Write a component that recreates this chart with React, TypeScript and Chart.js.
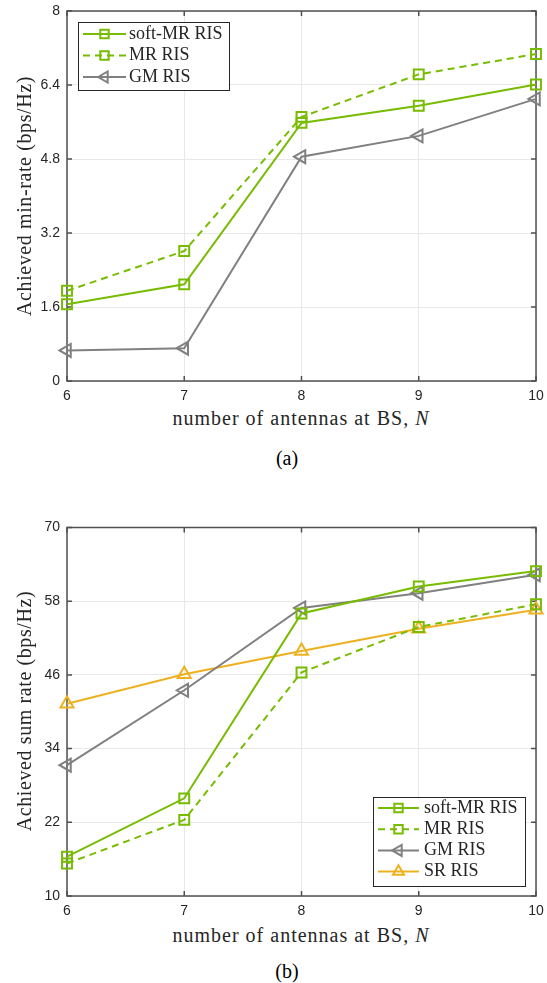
import React, { useEffect, useRef } from 'react';
import { Chart, registerables } from 'chart.js';

Chart.register(...registerables);

// ---------- data ----------
const antennas = [6, 7, 8, 9, 10];
const xTicks = [6, 7, 8, 9, 10];
const minRateTicks = [0, 1.6, 3.2, 4.8, 6.4, 8];
const sumRateTicks = [10, 22, 34, 46, 58, 70];

const minSoftMR = [1.66, 2.09, 5.58, 5.95, 6.41];
const minMR = [1.95, 2.81, 5.71, 6.63, 7.07];
const minGM = [0.66, 0.71, 4.85, 5.3, 6.1];

const sumSoftMR = [16.4, 25.9, 56.0, 60.4, 62.9];
const sumMR = [15.3, 22.4, 46.4, 53.8, 57.5];
const sumGM = [31.3, 43.5, 56.9, 59.3, 62.3];
const sumSR = [41.3, 46.1, 49.9, 53.5, 56.6];

const seriesLabels = ['soft-MR RIS', 'MR RIS', 'GM RIS', 'SR RIS'];

// ---------- styles ----------
const GREEN = '#77BC00';
const GRAY = '#808080';
const ORANGE = '#EDB120';
const TEXT = '#262626';
const SERIF = '"Liberation Serif", "Times New Roman", serif';
const SANS = '"Liberation Sans", Arial, sans-serif';

type Kind = 'softMR' | 'MR' | 'GM' | 'SR';

function makeSeries(label: string, values: number[], kind: Kind) {
  const color = kind === 'GM' ? GRAY : kind === 'SR' ? ORANGE : GREEN;
  const tri = kind === 'GM' || kind === 'SR';
  return {
    label,
    data: antennas.map((x, i) => ({ x, y: values[i] })),
    borderColor: color,
    borderWidth: 2,
    borderDash: kind === 'MR' ? [7, 5] : [],
    pointStyle: tri ? 'triangle' : 'rect',
    pointRotation: kind === 'GM' ? -90 : 0,
    pointRadius: tri ? 7.5 : 7,
    pointHoverRadius: tri ? 7.5 : 7,
    pointBorderWidth: 2,
    pointBorderColor: color,
    pointBackgroundColor: 'rgba(0,0,0,0)',
    tension: 0,
    clip: false as any,
  };
}

function drawMarker(
  ctx: CanvasRenderingContext2D,
  style: string,
  x: number,
  y: number,
  r: number,
  rot: number,
  color: string,
  bw: number
) {
  ctx.save();
  ctx.setLineDash([]);
  ctx.strokeStyle = color;
  ctx.lineWidth = bw;
  ctx.beginPath();
  if (style === 'rect') {
    const s = r * Math.SQRT1_2;
    ctx.rect(x - s, y - s, 2 * s, 2 * s);
  } else {
    let a = ((rot || 0) * Math.PI) / 180;
    ctx.moveTo(x + Math.sin(a) * r, y - Math.cos(a) * r);
    for (let k = 0; k < 2; k++) {
      a += (2 * Math.PI) / 3;
      ctx.lineTo(x + Math.sin(a) * r, y - Math.cos(a) * r);
    }
    ctx.closePath();
  }
  ctx.stroke();
  ctx.restore();
}

const plotBoxPlugin = {
  id: 'plotBox',
  beforeDatasetsDraw(chart: any) {
    const { ctx, chartArea, scales } = chart;
    const { left, right, top, bottom } = chartArea;
    const xs = scales.x;
    const ys = scales.y;
    const tl = 5;
    ctx.save();
    ctx.strokeStyle = '#505050';
    ctx.lineWidth = 1.5;
    ctx.beginPath();
    xs.ticks.forEach((t: any) => {
      const px = xs.getPixelForValue(t.value);
      ctx.moveTo(px, bottom);
      ctx.lineTo(px, bottom - tl);
      ctx.moveTo(px, top);
      ctx.lineTo(px, top + tl);
    });
    ys.ticks.forEach((t: any) => {
      const py = ys.getPixelForValue(t.value);
      ctx.moveTo(left, py);
      ctx.lineTo(left + tl, py);
      ctx.moveTo(right, py);
      ctx.lineTo(right - tl, py);
    });
    ctx.stroke();
    ctx.strokeRect(left, top, right - left, bottom - top);
    ctx.restore();
  },
};

const legendPlugin = {
  id: 'matlabLegend',
  afterDatasetsDraw(chart: any, _args: any, opts: any) {
    const { ctx } = chart;
    const { left, top, width, height, firstRow, rowHeight, lineStart, lineEnd, textX } = opts;
    ctx.save();
    ctx.fillStyle = '#ffffff';
    ctx.fillRect(left, top, width, height);
    ctx.strokeStyle = TEXT;
    ctx.lineWidth = 1;
    ctx.strokeRect(left + 0.5, top + 0.5, width, height);
    chart.data.datasets.forEach((ds: any, i: number) => {
      const yy = top + firstRow + i * rowHeight;
      ctx.strokeStyle = ds.borderColor;
      ctx.lineWidth = ds.borderWidth;
      ctx.setLineDash(ds.borderDash || []);
      ctx.beginPath();
      ctx.moveTo(left + lineStart, yy);
      ctx.lineTo(left + lineEnd, yy);
      ctx.stroke();
      ctx.setLineDash([]);
      drawMarker(
        ctx,
        ds.pointStyle,
        left + (lineStart + lineEnd) / 2,
        yy,
        ds.pointRadius * 0.85,
        ds.pointRotation,
        ds.pointBorderColor,
        ds.pointBorderWidth
      );
      ctx.fillStyle = TEXT;
      ctx.font = `18px ${SERIF}`;
      ctx.textBaseline = 'middle';
      ctx.textAlign = 'left';
      ctx.fillText(ds.label, left + textX, yy);
    });
    ctx.restore();
  },
};

function buildConfig(
  datasets: any[],
  yTicks: number[],
  canvasH: number,
  padTop: number,
  plotBottom: number,
  legend: any
): any {
  return {
    type: 'line',
    data: { datasets },
    plugins: [plotBoxPlugin, legendPlugin],
    options: {
      animation: false,
      responsive: false,
      events: [],
      layout: { padding: { top: padTop, right: 11, left: 0, bottom: 0 } },
      plugins: {
        legend: { display: false },
        tooltip: { enabled: false },
        matlabLegend: legend,
      },
      scales: {
        x: {
          type: 'linear',
          min: xTicks[0],
          max: xTicks[xTicks.length - 1],
          afterBuildTicks: (s: any) => {
            s.ticks = xTicks.map((v) => ({ value: v }));
          },
          afterFit: (s: any) => {
            s.height = canvasH - plotBottom;
            s.paddingLeft = 0;
            s.paddingRight = 0;
          },
          grid: { color: '#e8e8e8', lineWidth: 1, drawTicks: false },
          border: { display: false },
          ticks: {
            autoSkip: false,
            maxRotation: 0,
            padding: 7,
            color: TEXT,
            font: { family: SANS, size: 14 },
            callback: (v: any) => String(v),
          },
        },
        y: {
          type: 'linear',
          min: yTicks[0],
          max: yTicks[yTicks.length - 1],
          afterBuildTicks: (s: any) => {
            s.ticks = yTicks.map((v) => ({ value: v }));
          },
          afterFit: (s: any) => {
            s.width = 67;
            s.paddingTop = 0;
            s.paddingBottom = 0;
          },
          grid: { color: '#e8e8e8', lineWidth: 1, drawTicks: false },
          border: { display: false },
          ticks: {
            autoSkip: false,
            padding: 7,
            color: TEXT,
            font: { family: SANS, size: 14 },
            callback: (v: any) => String(Number(Number(v).toFixed(2))),
          },
        },
      },
    },
  };
}

function Label(props: { x: number; y: number; size: number; spacing?: number; rotate?: boolean; color?: string; children: any }) {
  const { x, y, size, spacing, rotate, color, children } = props;
  return (
    <div
      style={{
        position: 'absolute',
        left: x,
        top: y,
        transform: `translate(-50%, -50%)${rotate ? ' rotate(-90deg)' : ''}`,
        fontFamily: SERIF,
        fontSize: size,
        letterSpacing: spacing ? `${spacing}px` : undefined,
        color: color || TEXT,
        whiteSpace: 'nowrap',
        lineHeight: 1,
      }}
    >
      {children}
    </div>
  );
}

export default function App() {
  const refA = useRef<HTMLCanvasElement>(null);
  const refB = useRef<HTMLCanvasElement>(null);

  useEffect(() => {
    const dsA = [
      makeSeries(seriesLabels[0], minSoftMR, 'softMR'),
      makeSeries(seriesLabels[1], minMR, 'MR'),
      makeSeries(seriesLabels[2], minGM, 'GM'),
    ];
    const dsB = [
      makeSeries(seriesLabels[0], sumSoftMR, 'softMR'),
      makeSeries(seriesLabels[1], sumMR, 'MR'),
      makeSeries(seriesLabels[2], sumGM, 'GM'),
      makeSeries(seriesLabels[3], sumSR, 'SR'),
    ];
    const a = new Chart(
      refA.current!,
      buildConfig(dsA, minRateTicks, 405, 11, 381, {
        left: 78, top: 22, width: 151, height: 68, firstRow: 12, rowHeight: 21.5, lineStart: 5, lineEnd: 48, textX: 51,
      })
    );
    const b = new Chart(
      refB.current!,
      buildConfig(dsB, sumRateTicks, 410, 17.5, 386, {
        left: 373, top: 287, width: 152, height: 89, firstRow: 11, rowHeight: 21.2, lineStart: 5, lineEnd: 46, textX: 51,
      })
    );
    return () => {
      a.destroy();
      b.destroy();
    };
  }, []);

  return (
    <div style={{ position: 'absolute', left: 0, top: 0, width: 547, height: 983, background: '#ffffff', overflow: 'hidden' }}>
      <canvas ref={refA} width={547} height={405} style={{ position: 'absolute', left: 0, top: 0 }} />
      <canvas ref={refB} width={547} height={410} style={{ position: 'absolute', left: 0, top: 510 }} />
      <Label x={24} y={196} size={20} spacing={0.6} rotate>Achieved min-rate (bps/Hz)</Label>
      <Label x={301} y={418} size={20} spacing={1}>
        number of antennas at BS, <i>N</i>
      </Label>
      <Label x={287} y={458} size={20} color="#000">(a)</Label>
      <Label x={24} y={711} size={20} spacing={0.6} rotate>Achieved sum rate (bps/Hz)</Label>
      <Label x={301} y={935} size={20} spacing={1}>
        number of antennas at BS, <i>N</i>
      </Label>
      <Label x={287} y={971} size={20} color="#000">(b)</Label>
    </div>
  );
}
